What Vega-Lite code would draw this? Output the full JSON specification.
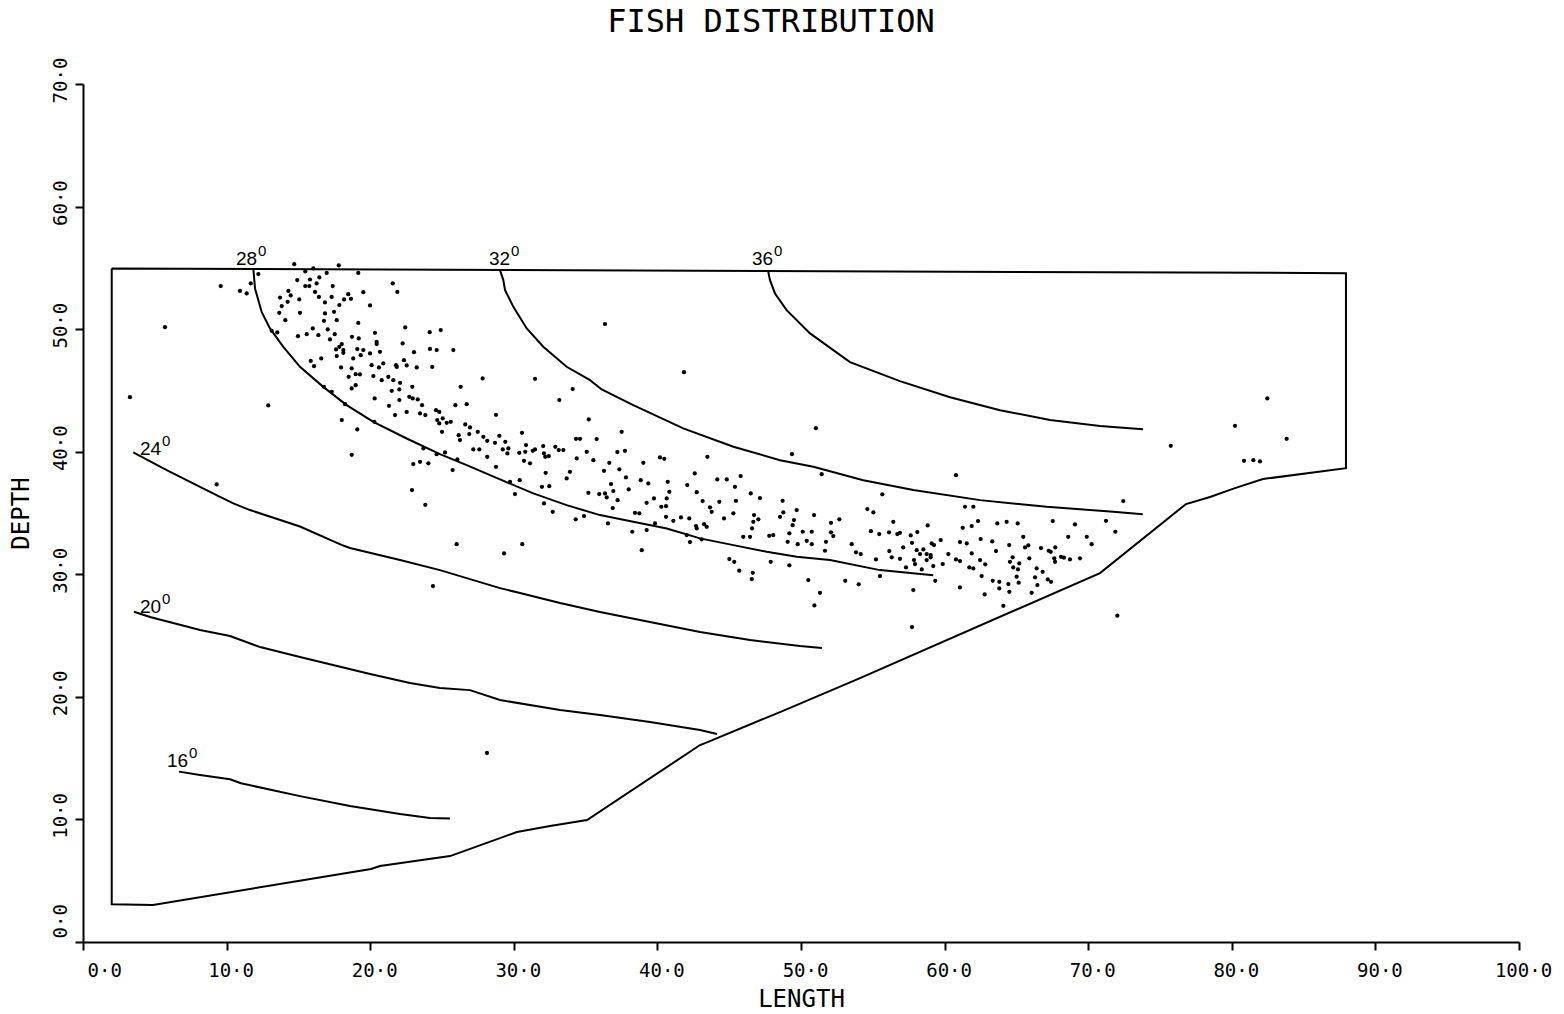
{
  "$schema": "https://vega.github.io/schema/vega-lite/v6.json",
  "width": 1436,
  "height": 858,
  "autosize": {"type": "none"},
  "padding": {"left": 83, "top": 84, "right": 45, "bottom": 72},
  "background": "white",
  "title": {"text": "FISH DISTRIBUTION", "font": "DejaVu Sans Mono", "fontSize": 32, "fontWeight": "normal", "color": "black", "anchor": "middle", "dx": -30, "dy": 31, "offset": 24, "baseline": "alphabetic"},
  "config": {
    "view": {"stroke": null},
    "axis": {"domainColor": "black", "domainWidth": 2, "tickColor": "black", "tickWidth": 2, "tickSize": 8, "labelFont": "DejaVu Sans Mono", "labelFontSize": 19, "labelColor": "black", "titleFont": "DejaVu Sans Mono", "titleFontSize": 24, "titleFontWeight": "normal", "titleColor": "black", "grid": false, "labelFlush": false, "labelOverlap": false}
  },
  "datasets": {
    "lines": [
      {"k": "b", "o": 1, "x": 2.0, "y": 54.95}, {"k": "b", "o": 2, "x": 87.95, "y": 54.57}, {"k": "b", "o": 3, "x": 87.95, "y": 38.66}, {"k": "b", "o": 4, "x": 82.17, "y": 37.77}, {"k": "b", "o": 5, "x": 80.22, "y": 37.03}, {"k": "b", "o": 6, "x": 78.48, "y": 36.3}, {"k": "b", "o": 7, "x": 76.81, "y": 35.73}, {"k": "b", "o": 8, "x": 70.82, "y": 30.1}, {"k": "b", "o": 9, "x": 54.11, "y": 21.53}, {"k": "b", "o": 10, "x": 48.54, "y": 18.76}, {"k": "b", "o": 11, "x": 43.66, "y": 16.39}, {"k": "b", "o": 12, "x": 42.97, "y": 16.07}, {"k": "b", "o": 13, "x": 35.1, "y": 9.95}, {"k": "b", "o": 14, "x": 32.52, "y": 9.46}, {"k": "b", "o": 15, "x": 30.22, "y": 8.97}, {"k": "b", "o": 16, "x": 25.56, "y": 7.01}, {"k": "b", "o": 17, "x": 20.68, "y": 6.2}, {"k": "b", "o": 18, "x": 20.06, "y": 5.95}, {"k": "b", "o": 19, "x": 4.87, "y": 3.02}, {"k": "b", "o": 20, "x": 2.0, "y": 3.07}, {"k": "b", "o": 21, "x": 2.0, "y": 54.95},
      {"k": "c16", "o": 1, "x": 6.69, "y": 13.9}, {"k": "c16", "o": 2, "x": 8.15, "y": 13.62}, {"k": "c16", "o": 3, "x": 10.24, "y": 13.27}, {"k": "c16", "o": 4, "x": 11.0, "y": 12.95}, {"k": "c16", "o": 5, "x": 15.11, "y": 11.9}, {"k": "c16", "o": 6, "x": 18.59, "y": 11.09}, {"k": "c16", "o": 7, "x": 22.08, "y": 10.44}, {"k": "c16", "o": 8, "x": 24.16, "y": 10.11}, {"k": "c16", "o": 9, "x": 25.56, "y": 10.08},
      {"k": "c20", "o": 1, "x": 3.55, "y": 26.94}, {"k": "c20", "o": 2, "x": 4.67, "y": 26.51}, {"k": "c20", "o": 3, "x": 8.15, "y": 25.45}, {"k": "c20", "o": 4, "x": 10.24, "y": 24.96}, {"k": "c20", "o": 5, "x": 12.33, "y": 24.06}, {"k": "c20", "o": 6, "x": 15.11, "y": 23.25}, {"k": "c20", "o": 7, "x": 19.99, "y": 21.86}, {"k": "c20", "o": 8, "x": 22.77, "y": 21.13}, {"k": "c20", "o": 9, "x": 24.86, "y": 20.72}, {"k": "c20", "o": 10, "x": 26.95, "y": 20.55}, {"k": "c20", "o": 11, "x": 29.04, "y": 19.74}, {"k": "c20", "o": 12, "x": 33.22, "y": 18.92}, {"k": "c20", "o": 13, "x": 36.0, "y": 18.52}, {"k": "c20", "o": 14, "x": 39.48, "y": 17.94}, {"k": "c20", "o": 15, "x": 42.97, "y": 17.29}, {"k": "c20", "o": 16, "x": 44.15, "y": 16.97},
      {"k": "c24", "o": 1, "x": 3.5, "y": 39.94}, {"k": "c24", "o": 2, "x": 5.83, "y": 38.5}, {"k": "c24", "o": 3, "x": 8.15, "y": 37.14}, {"k": "c24", "o": 4, "x": 9.54, "y": 36.32}, {"k": "c24", "o": 5, "x": 10.47, "y": 35.78}, {"k": "c24", "o": 6, "x": 11.63, "y": 35.24}, {"k": "c24", "o": 7, "x": 15.11, "y": 33.9}, {"k": "c24", "o": 8, "x": 18.0, "y": 32.4}, {"k": "c24", "o": 9, "x": 18.59, "y": 32.14}, {"k": "c24", "o": 10, "x": 22.08, "y": 31.16}, {"k": "c24", "o": 11, "x": 24.86, "y": 30.34}, {"k": "c24", "o": 12, "x": 29.04, "y": 28.87}, {"k": "c24", "o": 13, "x": 30.43, "y": 28.47}, {"k": "c24", "o": 14, "x": 33.22, "y": 27.65}, {"k": "c24", "o": 15, "x": 36.0, "y": 26.92}, {"k": "c24", "o": 16, "x": 39.48, "y": 26.1}, {"k": "c24", "o": 17, "x": 42.97, "y": 25.29}, {"k": "c24", "o": 18, "x": 46.45, "y": 24.63}, {"k": "c24", "o": 19, "x": 49.93, "y": 24.14}, {"k": "c24", "o": 20, "x": 51.46, "y": 23.98},
      {"k": "c28", "o": 1, "x": 11.86, "y": 54.95}, {"k": "c28", "o": 2, "x": 11.98, "y": 53.32}, {"k": "c28", "o": 3, "x": 12.44, "y": 51.41}, {"k": "c28", "o": 4, "x": 13.02, "y": 50.06}, {"k": "c28", "o": 5, "x": 13.95, "y": 48.56}, {"k": "c28", "o": 6, "x": 15.11, "y": 46.93}, {"k": "c28", "o": 7, "x": 16.73, "y": 45.29}, {"k": "c28", "o": 8, "x": 18.36, "y": 43.8}, {"k": "c28", "o": 9, "x": 20.22, "y": 42.44}, {"k": "c28", "o": 10, "x": 22.54, "y": 41.08}, {"k": "c28", "o": 11, "x": 24.86, "y": 39.8}, {"k": "c28", "o": 12, "x": 26.72, "y": 38.91}, {"k": "c28", "o": 13, "x": 29.04, "y": 37.74}, {"k": "c28", "o": 14, "x": 31.36, "y": 36.6}, {"k": "c28", "o": 15, "x": 33.68, "y": 35.64}, {"k": "c28", "o": 16, "x": 36.0, "y": 34.83}, {"k": "c28", "o": 17, "x": 38.32, "y": 34.28}, {"k": "c28", "o": 18, "x": 40.65, "y": 33.74}, {"k": "c28", "o": 19, "x": 42.97, "y": 32.93}, {"k": "c28", "o": 20, "x": 45.29, "y": 32.38}, {"k": "c28", "o": 21, "x": 47.61, "y": 31.84}, {"k": "c28", "o": 22, "x": 49.7, "y": 31.43}, {"k": "c28", "o": 23, "x": 52.02, "y": 31.16}, {"k": "c28", "o": 24, "x": 55.5, "y": 30.34}, {"k": "c28", "o": 25, "x": 59.21, "y": 29.93},
      {"k": "c32", "o": 1, "x": 29.04, "y": 54.81}, {"k": "c32", "o": 2, "x": 29.27, "y": 54.0}, {"k": "c32", "o": 3, "x": 29.39, "y": 53.18}, {"k": "c32", "o": 4, "x": 29.97, "y": 51.82}, {"k": "c32", "o": 5, "x": 30.9, "y": 50.06}, {"k": "c32", "o": 6, "x": 32.05, "y": 48.56}, {"k": "c32", "o": 7, "x": 33.68, "y": 46.93}, {"k": "c32", "o": 8, "x": 35.31, "y": 45.84}, {"k": "c32", "o": 9, "x": 36.12, "y": 45.08}, {"k": "c32", "o": 10, "x": 38.32, "y": 43.8}, {"k": "c32", "o": 11, "x": 41.8, "y": 41.9}, {"k": "c32", "o": 12, "x": 45.29, "y": 40.4}, {"k": "c32", "o": 13, "x": 48.54, "y": 39.31}, {"k": "c32", "o": 14, "x": 50.86, "y": 38.77}, {"k": "c32", "o": 15, "x": 54.34, "y": 37.68}, {"k": "c32", "o": 16, "x": 57.82, "y": 36.87}, {"k": "c32", "o": 17, "x": 62.47, "y": 36.05}, {"k": "c32", "o": 18, "x": 67.11, "y": 35.51}, {"k": "c32", "o": 19, "x": 71.75, "y": 35.1}, {"k": "c32", "o": 20, "x": 73.8, "y": 34.89},
      {"k": "c36", "o": 1, "x": 47.7, "y": 54.81}, {"k": "c36", "o": 2, "x": 47.84, "y": 54.0}, {"k": "c36", "o": 3, "x": 48.19, "y": 52.91}, {"k": "c36", "o": 4, "x": 49.0, "y": 51.55}, {"k": "c36", "o": 5, "x": 50.63, "y": 49.65}, {"k": "c36", "o": 6, "x": 53.41, "y": 47.31}, {"k": "c36", "o": 7, "x": 56.89, "y": 45.76}, {"k": "c36", "o": 8, "x": 60.38, "y": 44.45}, {"k": "c36", "o": 9, "x": 63.86, "y": 43.39}, {"k": "c36", "o": 10, "x": 67.34, "y": 42.58}, {"k": "c36", "o": 11, "x": 70.82, "y": 42.09}, {"k": "c36", "o": 12, "x": 73.82, "y": 41.84}
    ],
    "labels": [
      {"t": "28", "x": 10.65, "y": 55.22}, {"t": "32", "x": 28.27, "y": 55.22}, {"t": "36", "x": 46.59, "y": 55.22}, {"t": "24", "x": 3.97, "y": 39.72}, {"t": "20", "x": 3.97, "y": 26.84}, {"t": "16", "x": 5.85, "y": 14.27}
    ],
    "pts": [
      {"x": 9.59, "y": 53.51}, {"x": 10.93, "y": 53.12}, {"x": 11.4, "y": 52.91}, {"x": 11.68, "y": 53.73}, {"x": 12.21, "y": 54.49}, {"x": 14.71, "y": 55.3}, {"x": 15.48, "y": 54.71}, {"x": 16.04, "y": 54.95}, {"x": 14.92, "y": 54.0}, {"x": 15.81, "y": 54.05},
      {"x": 16.27, "y": 53.73}, {"x": 16.46, "y": 54.22}, {"x": 16.97, "y": 54.59}, {"x": 17.81, "y": 55.2}, {"x": 19.17, "y": 54.59}, {"x": 15.48, "y": 53.51}, {"x": 15.76, "y": 53.51}, {"x": 17.39, "y": 53.51}, {"x": 16.16, "y": 53.04}, {"x": 14.3, "y": 53.12},
      {"x": 14.46, "y": 52.75}, {"x": 13.72, "y": 52.58}, {"x": 14.25, "y": 52.23}, {"x": 15.06, "y": 52.42}, {"x": 16.43, "y": 52.63}, {"x": 16.85, "y": 52.18}, {"x": 17.32, "y": 52.63}, {"x": 17.85, "y": 51.96}, {"x": 18.18, "y": 52.42}, {"x": 18.47, "y": 52.85},
      {"x": 18.66, "y": 52.47}, {"x": 19.52, "y": 53.02}, {"x": 13.84, "y": 51.88}, {"x": 13.67, "y": 51.33}, {"x": 15.11, "y": 51.33}, {"x": 16.85, "y": 51.28}, {"x": 17.48, "y": 51.41}, {"x": 17.67, "y": 50.73}, {"x": 16.78, "y": 50.68}, {"x": 14.09, "y": 50.73},
      {"x": 19.99, "y": 51.93}, {"x": 21.57, "y": 53.73}, {"x": 21.89, "y": 53.04}, {"x": 19.17, "y": 50.51}, {"x": 16.0, "y": 50.06}, {"x": 17.04, "y": 49.98}, {"x": 17.53, "y": 49.59}, {"x": 15.58, "y": 49.59}, {"x": 14.97, "y": 49.43}, {"x": 16.39, "y": 49.51},
      {"x": 17.2, "y": 49.16}, {"x": 18.73, "y": 49.37}, {"x": 19.2, "y": 49.24}, {"x": 20.33, "y": 49.7}, {"x": 22.44, "y": 50.14}, {"x": 24.14, "y": 49.75}, {"x": 24.91, "y": 49.92}, {"x": 20.45, "y": 48.96}, {"x": 20.45, "y": 48.78}, {"x": 22.26, "y": 48.83},
      {"x": 18.02, "y": 48.78}, {"x": 17.85, "y": 48.56}, {"x": 17.62, "y": 48.34}, {"x": 18.13, "y": 48.29}, {"x": 19.1, "y": 48.37}, {"x": 19.52, "y": 48.29}, {"x": 20.68, "y": 48.15}, {"x": 17.67, "y": 47.8}, {"x": 18.13, "y": 48.07}, {"x": 19.34, "y": 47.88},
      {"x": 18.82, "y": 47.61}, {"x": 19.99, "y": 48.02}, {"x": 23.05, "y": 48.12}, {"x": 24.16, "y": 48.39}, {"x": 24.63, "y": 48.29}, {"x": 25.79, "y": 48.29}, {"x": 16.59, "y": 47.61}, {"x": 15.86, "y": 47.41}, {"x": 16.09, "y": 46.98}, {"x": 17.97, "y": 46.88},
      {"x": 18.71, "y": 46.79}, {"x": 18.99, "y": 46.33}, {"x": 18.5, "y": 46.11}, {"x": 19.29, "y": 46.3}, {"x": 20.1, "y": 47.06}, {"x": 20.61, "y": 46.88}, {"x": 20.22, "y": 46.17}, {"x": 20.91, "y": 47.2}, {"x": 21.8, "y": 47.06}, {"x": 21.85, "y": 46.92},
      {"x": 22.35, "y": 47.47}, {"x": 22.54, "y": 47.04}, {"x": 23.24, "y": 46.88}, {"x": 24.32, "y": 46.92}, {"x": 21.26, "y": 46.11}, {"x": 21.61, "y": 45.84}, {"x": 22.08, "y": 45.62}, {"x": 20.8, "y": 45.84}, {"x": 18.71, "y": 45.16}, {"x": 18.99, "y": 45.43},
      {"x": 22.03, "y": 45.08}, {"x": 22.93, "y": 45.29}, {"x": 21.5, "y": 44.97}, {"x": 22.72, "y": 44.48}, {"x": 23.31, "y": 44.27}, {"x": 22.96, "y": 44.35}, {"x": 27.83, "y": 45.98}, {"x": 26.3, "y": 45.29}, {"x": 25.93, "y": 43.8}, {"x": 26.72, "y": 43.88},
      {"x": 20.31, "y": 44.35}, {"x": 21.31, "y": 43.74}, {"x": 22.03, "y": 44.21}, {"x": 23.61, "y": 43.8}, {"x": 22.54, "y": 43.25}, {"x": 21.73, "y": 42.99}, {"x": 23.47, "y": 43.12}, {"x": 23.84, "y": 42.99}, {"x": 24.58, "y": 43.39}, {"x": 24.81, "y": 43.25},
      {"x": 24.67, "y": 42.58}, {"x": 25.05, "y": 42.72}, {"x": 25.33, "y": 42.36}, {"x": 25.61, "y": 42.44}, {"x": 24.81, "y": 42.31}, {"x": 25.0, "y": 41.62}, {"x": 26.62, "y": 42.23}, {"x": 26.95, "y": 41.98}, {"x": 28.76, "y": 43.01}, {"x": 26.16, "y": 41.35},
      {"x": 26.25, "y": 40.95}, {"x": 26.9, "y": 41.44}, {"x": 27.49, "y": 41.62}, {"x": 27.88, "y": 41.22}, {"x": 28.15, "y": 40.89}, {"x": 28.69, "y": 40.73}, {"x": 27.18, "y": 40.19}, {"x": 27.6, "y": 40.19}, {"x": 28.15, "y": 39.58}, {"x": 28.76, "y": 38.77},
      {"x": 25.74, "y": 38.5}, {"x": 23.0, "y": 38.99}, {"x": 23.47, "y": 39.18}, {"x": 24.05, "y": 39.05}, {"x": 23.7, "y": 40.27}, {"x": 24.63, "y": 39.8}, {"x": 25.21, "y": 39.94}, {"x": 26.07, "y": 39.37}, {"x": 22.91, "y": 36.87}, {"x": 20.29, "y": 42.44},
      {"x": 18.25, "y": 43.88}, {"x": 18.02, "y": 42.58}, {"x": 19.1, "y": 41.82}, {"x": 18.71, "y": 39.75}, {"x": 16.78, "y": 45.29}, {"x": 17.32, "y": 44.89}, {"x": 13.53, "y": 49.73}, {"x": 13.14, "y": 49.86}, {"x": 12.9, "y": 43.78}, {"x": 9.31, "y": 37.33},
      {"x": 29.23, "y": 40.19}, {"x": 29.62, "y": 40.27}, {"x": 29.41, "y": 40.81}, {"x": 28.99, "y": 41.3}, {"x": 29.55, "y": 39.86}, {"x": 30.38, "y": 39.91}, {"x": 30.57, "y": 41.54}, {"x": 30.85, "y": 40.54}, {"x": 30.8, "y": 39.99}, {"x": 31.32, "y": 40.07},
      {"x": 31.48, "y": 40.19}, {"x": 32.05, "y": 40.46}, {"x": 32.89, "y": 40.4}, {"x": 33.13, "y": 40.13}, {"x": 33.45, "y": 40.13}, {"x": 30.71, "y": 39.26}, {"x": 31.13, "y": 39.05}, {"x": 32.19, "y": 39.58}, {"x": 32.43, "y": 39.64}, {"x": 32.22, "y": 38.28},
      {"x": 30.41, "y": 37.68}, {"x": 29.74, "y": 37.54}, {"x": 30.08, "y": 36.54}, {"x": 31.96, "y": 37.14}, {"x": 32.47, "y": 37.19}, {"x": 32.1, "y": 35.78}, {"x": 32.71, "y": 35.1}, {"x": 33.68, "y": 37.82}, {"x": 33.91, "y": 38.36}, {"x": 34.38, "y": 39.45},
      {"x": 34.33, "y": 41.05}, {"x": 34.61, "y": 41.05}, {"x": 35.08, "y": 39.99}, {"x": 35.77, "y": 41.03}, {"x": 35.22, "y": 42.63}, {"x": 34.1, "y": 45.11}, {"x": 33.17, "y": 44.21}, {"x": 35.54, "y": 39.31}, {"x": 36.65, "y": 39.09}, {"x": 36.28, "y": 38.44},
      {"x": 37.35, "y": 38.56}, {"x": 37.21, "y": 39.97}, {"x": 37.74, "y": 40.07}, {"x": 37.51, "y": 41.62}, {"x": 37.81, "y": 37.9}, {"x": 39.02, "y": 39.09}, {"x": 38.84, "y": 37.68}, {"x": 39.37, "y": 37.41}, {"x": 36.77, "y": 37.36}, {"x": 35.19, "y": 36.65},
      {"x": 35.95, "y": 36.54}, {"x": 36.35, "y": 36.6}, {"x": 36.47, "y": 36.27}, {"x": 36.93, "y": 36.79}, {"x": 38.0, "y": 36.92}, {"x": 37.23, "y": 36.05}, {"x": 36.89, "y": 35.4}, {"x": 36.56, "y": 34.15}, {"x": 34.89, "y": 34.75}, {"x": 34.31, "y": 34.48},
      {"x": 38.44, "y": 35.02}, {"x": 38.74, "y": 34.97}, {"x": 39.25, "y": 35.83}, {"x": 39.76, "y": 36.19}, {"x": 40.27, "y": 35.51}, {"x": 40.6, "y": 35.56}, {"x": 40.65, "y": 36.19}, {"x": 40.83, "y": 36.73}, {"x": 40.72, "y": 37.54}, {"x": 40.18, "y": 39.53},
      {"x": 40.48, "y": 39.42}, {"x": 42.6, "y": 38.23}, {"x": 42.08, "y": 37.28}, {"x": 42.74, "y": 36.7}, {"x": 43.15, "y": 35.97}, {"x": 43.66, "y": 35.46}, {"x": 43.78, "y": 35.1}, {"x": 44.31, "y": 35.91}, {"x": 44.17, "y": 37.74}, {"x": 44.83, "y": 37.74},
      {"x": 45.4, "y": 37.14}, {"x": 45.8, "y": 38.01}, {"x": 45.29, "y": 34.97}, {"x": 44.64, "y": 34.56}, {"x": 45.47, "y": 35.99}, {"x": 46.5, "y": 36.6}, {"x": 47.14, "y": 36.22}, {"x": 48.72, "y": 35.99}, {"x": 49.37, "y": 39.8}, {"x": 49.7, "y": 35.24},
      {"x": 48.54, "y": 34.69}, {"x": 46.73, "y": 34.83}, {"x": 47.03, "y": 34.48}, {"x": 46.68, "y": 34.28}, {"x": 46.59, "y": 33.74}, {"x": 45.98, "y": 33.06}, {"x": 46.45, "y": 33.06}, {"x": 47.79, "y": 33.14}, {"x": 48.07, "y": 33.2}, {"x": 49.19, "y": 33.34},
      {"x": 49.42, "y": 34.01}, {"x": 49.07, "y": 32.65}, {"x": 49.77, "y": 32.46}, {"x": 40.6, "y": 34.69}, {"x": 41.11, "y": 34.36}, {"x": 41.64, "y": 34.64}, {"x": 42.22, "y": 34.56}, {"x": 42.69, "y": 33.93}, {"x": 42.74, "y": 33.74}, {"x": 43.25, "y": 34.09},
      {"x": 43.43, "y": 33.87}, {"x": 42.27, "y": 32.63}, {"x": 43.08, "y": 32.85}, {"x": 42.04, "y": 33.2}, {"x": 39.83, "y": 34.15}, {"x": 39.25, "y": 33.61}, {"x": 38.25, "y": 33.47}, {"x": 38.91, "y": 31.97}, {"x": 45.01, "y": 31.24}, {"x": 45.35, "y": 31.02},
      {"x": 45.7, "y": 30.29}, {"x": 46.64, "y": 30.12}, {"x": 47.89, "y": 31.02}, {"x": 49.19, "y": 30.73}, {"x": 46.57, "y": 29.61}, {"x": 30.59, "y": 32.46}, {"x": 29.32, "y": 31.7}, {"x": 26.02, "y": 32.46}, {"x": 23.84, "y": 35.67}, {"x": 32.1, "y": 39.86},
      {"x": 48.77, "y": 35.05}, {"x": 49.51, "y": 34.42}, {"x": 50.12, "y": 33.47}, {"x": 50.4, "y": 32.73}, {"x": 50.75, "y": 33.47}, {"x": 50.75, "y": 32.46}, {"x": 50.91, "y": 34.83}, {"x": 51.74, "y": 32.65}, {"x": 51.67, "y": 31.92}, {"x": 52.09, "y": 33.42},
      {"x": 52.25, "y": 33.12}, {"x": 52.09, "y": 34.2}, {"x": 52.67, "y": 34.48}, {"x": 53.53, "y": 32.46}, {"x": 53.83, "y": 31.79}, {"x": 54.16, "y": 31.65}, {"x": 54.62, "y": 35.32}, {"x": 55.04, "y": 35.05}, {"x": 54.87, "y": 33.52}, {"x": 55.45, "y": 33.28},
      {"x": 55.66, "y": 36.52}, {"x": 56.13, "y": 33.42}, {"x": 56.43, "y": 34.28}, {"x": 56.71, "y": 33.28}, {"x": 56.89, "y": 33.38}, {"x": 57.64, "y": 33.17}, {"x": 58.1, "y": 33.44}, {"x": 57.73, "y": 32.57}, {"x": 57.12, "y": 32.19}, {"x": 56.15, "y": 31.89},
      {"x": 56.32, "y": 31.38}, {"x": 56.89, "y": 31.26}, {"x": 55.22, "y": 31.21}, {"x": 58.06, "y": 31.97}, {"x": 58.29, "y": 31.65}, {"x": 58.52, "y": 32.03}, {"x": 58.75, "y": 31.65}, {"x": 59.03, "y": 31.57}, {"x": 59.03, "y": 31.38}, {"x": 59.1, "y": 32.52},
      {"x": 59.26, "y": 32.38}, {"x": 58.75, "y": 31.16}, {"x": 57.87, "y": 31.16}, {"x": 57.94, "y": 30.83}, {"x": 57.31, "y": 30.56}, {"x": 58.41, "y": 30.4}, {"x": 59.21, "y": 30.67}, {"x": 58.82, "y": 33.99}, {"x": 59.73, "y": 32.79}, {"x": 60.26, "y": 31.65},
      {"x": 59.87, "y": 30.83}, {"x": 59.35, "y": 29.47}, {"x": 57.82, "y": 28.71}, {"x": 55.5, "y": 29.85}, {"x": 54.02, "y": 29.18}, {"x": 53.08, "y": 29.47}, {"x": 51.32, "y": 28.49}, {"x": 50.93, "y": 27.46}, {"x": 50.51, "y": 29.53}, {"x": 60.79, "y": 31.21},
      {"x": 61.07, "y": 31.08}, {"x": 61.07, "y": 32.63}, {"x": 61.26, "y": 33.79}, {"x": 61.54, "y": 32.52}, {"x": 61.89, "y": 31.7}, {"x": 62.33, "y": 34.34}, {"x": 62.51, "y": 32.87}, {"x": 62.47, "y": 31.16}, {"x": 61.72, "y": 30.56}, {"x": 62.0, "y": 30.48},
      {"x": 62.83, "y": 30.81}, {"x": 62.58, "y": 29.85}, {"x": 63.32, "y": 32.68}, {"x": 63.67, "y": 34.15}, {"x": 63.58, "y": 31.89}, {"x": 63.35, "y": 29.47}, {"x": 63.81, "y": 29.39}, {"x": 63.81, "y": 28.85}, {"x": 62.79, "y": 28.36}, {"x": 61.07, "y": 28.93},
      {"x": 64.09, "y": 27.43}, {"x": 64.32, "y": 34.28}, {"x": 65.09, "y": 34.15}, {"x": 64.5, "y": 32.38}, {"x": 64.74, "y": 31.38}, {"x": 64.55, "y": 31.02}, {"x": 65.2, "y": 30.89}, {"x": 64.78, "y": 30.56}, {"x": 65.11, "y": 30.4}, {"x": 65.02, "y": 29.8},
      {"x": 64.44, "y": 29.2}, {"x": 64.51, "y": 28.57}, {"x": 65.16, "y": 29.31}, {"x": 65.48, "y": 33.06}, {"x": 65.83, "y": 32.36}, {"x": 65.6, "y": 32.19}, {"x": 65.9, "y": 31.3}, {"x": 66.41, "y": 30.48}, {"x": 66.71, "y": 32.14}, {"x": 66.83, "y": 30.2},
      {"x": 66.3, "y": 29.75}, {"x": 66.46, "y": 29.12}, {"x": 66.06, "y": 28.49}, {"x": 67.25, "y": 31.92}, {"x": 67.39, "y": 31.83}, {"x": 67.71, "y": 32.19}, {"x": 67.64, "y": 31.3}, {"x": 67.69, "y": 31.02}, {"x": 68.11, "y": 31.43}, {"x": 68.31, "y": 31.35},
      {"x": 68.73, "y": 31.21}, {"x": 69.43, "y": 31.3}, {"x": 67.18, "y": 29.58}, {"x": 67.41, "y": 29.39}, {"x": 67.53, "y": 34.34}, {"x": 68.61, "y": 33.06}, {"x": 69.08, "y": 34.07}, {"x": 69.9, "y": 33.06}, {"x": 70.24, "y": 32.46}, {"x": 71.24, "y": 34.36},
      {"x": 71.89, "y": 33.47}, {"x": 72.44, "y": 35.97}, {"x": 72.03, "y": 26.62}, {"x": 60.79, "y": 38.09}, {"x": 51.44, "y": 38.17}, {"x": 61.42, "y": 35.51}, {"x": 62.0, "y": 35.51}, {"x": 61.89, "y": 33.93}, {"x": 43.48, "y": 39.58}, {"x": 82.47, "y": 44.35},
      {"x": 80.22, "y": 42.11}, {"x": 83.82, "y": 41.05}, {"x": 75.75, "y": 40.48}, {"x": 80.85, "y": 39.26}, {"x": 81.5, "y": 39.31}, {"x": 81.96, "y": 39.21}, {"x": 5.71, "y": 50.16}, {"x": 3.27, "y": 44.45}, {"x": 24.37, "y": 29.04}, {"x": 28.13, "y": 15.42},
      {"x": 51.04, "y": 41.92}, {"x": 57.73, "y": 25.69}, {"x": 36.35, "y": 50.41}, {"x": 41.85, "y": 46.49}, {"x": 31.48, "y": 45.95}
    ]
  },
  "layer": [
    {
      "data": {"name": "lines"},
      "mark": {"type": "line", "color": "black", "strokeWidth": 2},
      "encoding": {
        "x": {"field": "x", "type": "quantitative", "scale": {"domain": [0, 100], "nice": false, "zero": false},
          "axis": {"title": "LENGTH", "values": [0, 10, 20, 30, 40, 50, 60, 70, 80, 90, 100], "labelExpr": "replace(format(datum.value, '.1f'), '.', '·')", "labelAlign": {"condition": {"test": "datum.value === 0", "value": "left"}, "value": "center"}, "labelOffset": 4, "labelPadding": 11, "titlePadding": 7}},
        "y": {"field": "y", "type": "quantitative", "scale": {"domain": [0, 70], "nice": false, "zero": false},
          "axis": {"title": "DEPTH", "values": [0, 10, 20, 30, 40, 50, 60, 70], "labelExpr": "replace(format(datum.value, '.1f'), '.', '·')", "labelAngle": 270, "labelAlign": {"condition": {"test": "datum.value === 0", "value": "left"}, "value": "center"}, "labelBaseline": "alphabetic", "labelOffset": -4, "labelPadding": 9, "titlePadding": 23, "titleBaseline": "alphabetic"}},
        "detail": {"field": "k"},
        "order": {"field": "o", "type": "quantitative"}
      }
    },
    {
      "data": {"name": "pts"},
      "mark": {"type": "circle", "color": "black", "size": 18, "opacity": 1},
      "encoding": {
        "x": {"field": "x", "type": "quantitative"},
        "y": {"field": "y", "type": "quantitative"}
      }
    },
    {
      "data": {"name": "labels"},
      "mark": {"type": "text", "align": "left", "baseline": "alphabetic", "font": "Liberation Sans", "fontSize": 19, "color": "black"},
      "encoding": {
        "x": {"field": "x", "type": "quantitative"},
        "y": {"field": "y", "type": "quantitative"},
        "text": {"field": "t"}
      }
    },
    {
      "data": {"name": "labels"},
      "mark": {"type": "text", "align": "left", "baseline": "alphabetic", "font": "Liberation Sans", "fontSize": 15, "color": "black", "dx": 22, "dy": -9},
      "encoding": {
        "x": {"field": "x", "type": "quantitative"},
        "y": {"field": "y", "type": "quantitative"},
        "text": {"value": "0"}
      }
    }
  ]
}
